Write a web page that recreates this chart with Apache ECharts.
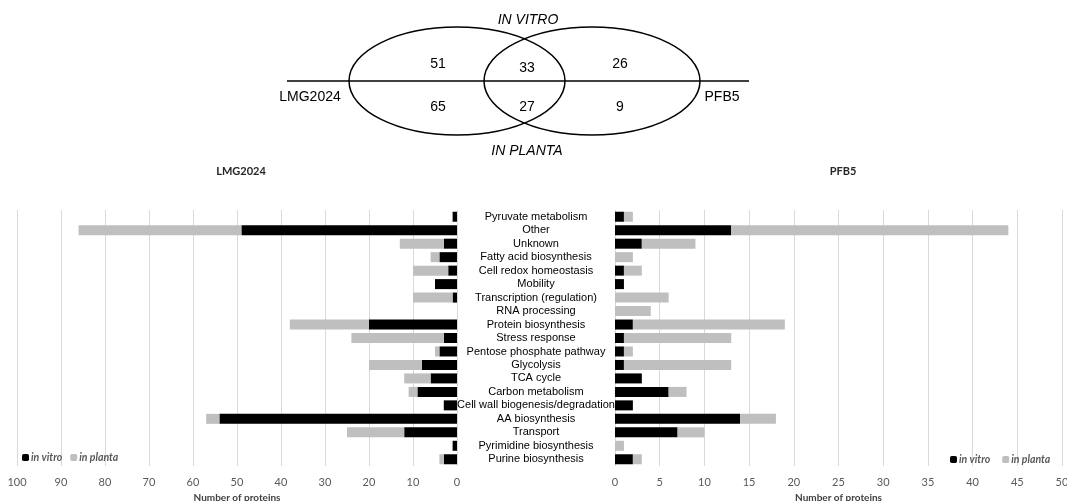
<!DOCTYPE html>
<html>
<head>
<meta charset="utf-8">
<script src="https://cdn.jsdelivr.net/npm/echarts@6/dist/echarts.min.js"></script>
<style>
    html, body { margin: 0; padding: 0; background: #fff; }
    #chart { width: 1067px; height: 501px; }
</style>
</head>
<body>
<div id="chart"></div>
<script>
// functional categories, top to bottom
let categories = ['Pyruvate metabolism', 'Other', 'Unknown', 'Fatty acid biosynthesis', 'Cell redox homeostasis',
    'Mobility', 'Transcription (regulation)', 'RNA processing', 'Protein biosynthesis', 'Stress response',
    'Pentose phosphate pathway', 'Glycolysis', 'TCA cycle', 'Carbon metabolism', 'Cell wall biogenesis/degradation',
    'AA biosynthesis', 'Transport', 'Pyrimidine biosynthesis', 'Purine biosynthesis'];

let lmgInVitro = [1, 49, 3, 4, 2, 5, 1, 0, 20, 3, 4, 8, 6, 9, 3, 54, 12, 1, 3];
let lmgInPlanta = [0, 37, 10, 2, 8, 0, 9, 0, 18, 21, 1, 12, 6, 2, 0, 3, 13, 0, 1];
let pfbInVitro = [1, 13, 3, 0, 1, 1, 0, 0, 2, 1, 1, 1, 3, 6, 2, 14, 7, 0, 2];
let pfbInPlanta = [1, 31, 6, 2, 2, 0, 6, 4, 17, 12, 1, 12, 0, 2, 0, 4, 3, 1, 1];

// venn: LMG only / shared / PFB only, upper row in vitro, lower row in planta
let vennInVitro = [51, 33, 26];
let vennInPlanta = [65, 27, 9];

let tickFont = 'Lato, "Open Sans", sans-serif';
let labelFont = '"Liberation Sans", Arial, sans-serif';

let vennX = [438, 527, 620];
let vennText = [];
vennInVitro.forEach((v, i) => vennText.push({type: 'text', x: vennX[i], y: i === 1 ? 68 : 64, style: {text: String(v)}}));
vennInPlanta.forEach((v, i) => vennText.push({type: 'text', x: vennX[i], y: 107, style: {text: String(v)}}));
vennText.forEach(t => {
    t.style.font = '14px ' + labelFont;
    t.style.fill = '#000';
    t.style.textAlign = 'center';
    t.style.textVerticalAlign = 'middle';
});

let xAxisCommon = {
    type: 'value',
    name: 'Number of proteins', nameLocation: 'middle', nameGap: 25,
    nameTextStyle: {fontFamily: tickFont, fontWeight: 'bold', fontSize: 10, color: '#404040'},
    axisLine: {show: false}, axisTick: {show: false},
    axisLabel: {fontFamily: tickFont, fontSize: 11, color: '#595959', margin: 11},
    splitLine: {show: true, lineStyle: {color: '#d9d9d9', width: 1}}
};

let barCommon = {type: 'bar', barWidth: 10};
let legendText = {fontFamily: tickFont, fontStyle: 'italic', fontWeight: 'bold', fontSize: 10.5, color: '#595959', padding: [0, 0, 0, -3]};

let option = {
    animation: false,
    title: [
        {text: 'LMG2024', left: 236, top: 161, textAlign: 'center',
            textStyle: {fontFamily: tickFont, fontSize: 11, fontWeight: 'bold', color: '#262626'}},
        {text: 'PFB5', left: 838, top: 161, textAlign: 'center',
            textStyle: {fontFamily: tickFont, fontSize: 11, fontWeight: 'bold', color: '#262626'}}
    ],
    legend: [
        {data: ['in vitro', 'in planta'], left: 17, top: 447, itemWidth: 7, itemHeight: 7, itemGap: 8, textStyle: legendText},
        {data: ['in vitro', 'in planta'], left: 945, top: 449, itemWidth: 7, itemHeight: 7, itemGap: 12, textStyle: legendText}
    ],
    grid: [
        {left: 17, right: 610, top: 210, bottom: 35, outerBoundsMode: 'none'},
        {left: 615, right: 5, top: 210, bottom: 35, outerBoundsMode: 'none'}
    ],
    xAxis: [
        Object.assign({}, xAxisCommon, {gridIndex: 0, inverse: true, min: 0, max: 100, interval: 10}),
        Object.assign({}, xAxisCommon, {gridIndex: 1, min: 0, max: 50, interval: 5})
    ],
    yAxis: [
        {type: 'category', gridIndex: 0, data: categories, inverse: true, position: 'right',
            axisLine: {show: false}, axisTick: {show: false},
            axisLabel: {interval: 0, margin: 79, align: 'center', fontFamily: labelFont, fontSize: 11, color: '#000'}},
        {type: 'category', gridIndex: 1, data: categories, inverse: true,
            axisLine: {show: false}, axisTick: {show: false}, axisLabel: {show: false}}
    ],
    series: [
        Object.assign({}, barCommon, {name: 'in vitro', xAxisIndex: 0, yAxisIndex: 0, stack: 'lmg', data: lmgInVitro, itemStyle: {color: '#000'}}),
        Object.assign({}, barCommon, {name: 'in planta', xAxisIndex: 0, yAxisIndex: 0, stack: 'lmg', data: lmgInPlanta, itemStyle: {color: '#bfbfbf'}}),
        Object.assign({}, barCommon, {name: 'in vitro', xAxisIndex: 1, yAxisIndex: 1, stack: 'pfb', data: pfbInVitro, itemStyle: {color: '#000'}}),
        Object.assign({}, barCommon, {name: 'in planta', xAxisIndex: 1, yAxisIndex: 1, stack: 'pfb', data: pfbInPlanta, itemStyle: {color: '#bfbfbf'}})
    ],
    graphic: [
        {type: 'ellipse', shape: {cx: 457, cy: 81, rx: 108, ry: 54}, style: {fill: 'none', stroke: '#000', lineWidth: 1.5}},
        {type: 'ellipse', shape: {cx: 592, cy: 81, rx: 108, ry: 54}, style: {fill: 'none', stroke: '#000', lineWidth: 1.5}},
        {type: 'line', shape: {x1: 287, y1: 81, x2: 749, y2: 81}, style: {stroke: '#000', lineWidth: 1.5}},
        {type: 'text', x: 528, y: 20, style: {text: 'IN VITRO', font: 'italic 14px ' + labelFont, fill: '#000', textAlign: 'center', textVerticalAlign: 'middle'}},
        {type: 'text', x: 527, y: 151, style: {text: 'IN PLANTA', font: 'italic 14px ' + labelFont, fill: '#000', textAlign: 'center', textVerticalAlign: 'middle'}},
        {type: 'text', x: 310, y: 97, style: {text: 'LMG2024', font: '14px ' + labelFont, fill: '#000', textAlign: 'center', textVerticalAlign: 'middle'}},
        {type: 'text', x: 722, y: 97, style: {text: 'PFB5', font: '14px ' + labelFont, fill: '#000', textAlign: 'center', textVerticalAlign: 'middle'}}
    ].concat(vennText)
};

let chart = echarts.init(document.getElementById('chart'));
chart.setOption(option);
</script>
</body>
</html>
